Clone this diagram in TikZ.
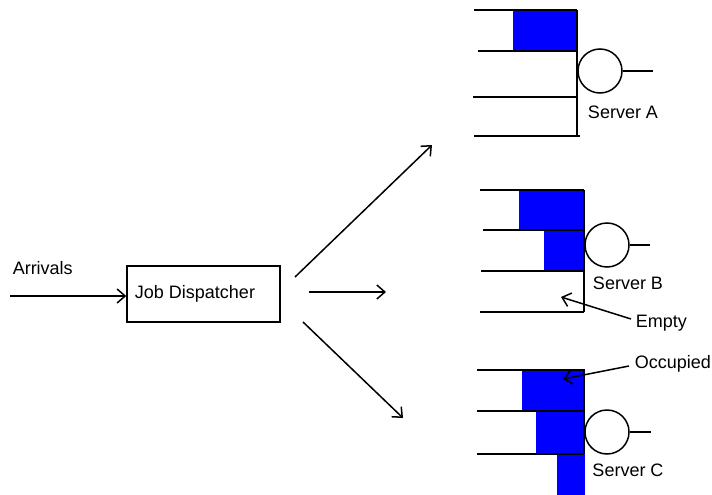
\documentclass[tikz,border=0pt]{standalone}
\usepackage{fontspec}
\setmainfont{Liberation Sans}
\usetikzlibrary{arrows.meta}
\definecolor{qblue}{RGB}{0,0,255}
\begin{document}
\begin{tikzpicture}[x=1pt,y=-1pt,
  line width=1.5pt,
  lbl/.style={font=\fontsize{18}{20}\selectfont, inner sep=0pt},
  arr/.style={-{Straight Barb[length=8pt,width=14pt,line width=1.5pt]}},
  srv/.style={circle, draw, minimum size=44pt, inner sep=0pt},
  disp/.style={draw, minimum width=153pt, minimum height=56pt, inner sep=0pt},
  occ/.style={fill=qblue}]
\useasboundingbox (0,0) rectangle (712,495);

% --- left part
\node[lbl, anchor=west] (arrlbl) at (12,268) {Arrivals};
\node[disp] (disp) at (203.5,294) {};
\node[lbl] (displbl) at (195,294) {Job Dispatcher};
\coordinate (ain) at (10,296);
\draw[arr] (ain) -- (disp.west |- ain);

% dispatcher outputs
\coordinate (o1s) at (295,277); \coordinate (o1e) at (432,145);
\coordinate (o2s) at (309,292); \coordinate (o2e) at (386,292);
\coordinate (o3s) at (303,322); \coordinate (o3e) at (403,418);
\draw[arr] (o1s) -- (o1e);
\draw[arr] (o2s) -- (o2e);
\draw[arr] (o3s) -- (o3e);

% --- Server A
\fill[occ] (513,10) rectangle (577,50);
\draw (474,10) -- (577,10);
\draw (478,51) -- (577,51);
\draw (473,97) -- (577,97);
\draw (474,136) -- (580,136);
\draw (577,10) -- (577,136);
\node[srv] (sa) at (600,71) {};
\coordinate (sao) at (653,71);
\draw (sa.east) -- (sao);
\node[lbl] (salbl) at (623,112) {Server A};

% --- Server B
\fill[occ] (519,190) rectangle (583,229);
\fill[occ] (544,230) rectangle (583,271);
\draw (480,190) -- (584,190);
\draw (483,230) -- (584,230);
\draw (481,271) -- (584,271);
\draw (480,312) -- (584,312);
\draw (584,190) -- (584,312);
\node[srv] (sb) at (607,245) {};
\coordinate (sbo) at (650,245);
\draw (sb.east) -- (sbo);
\node[lbl] (sblbl) at (628,283) {Server B};

\node[lbl, anchor=west] (emptylbl) at (635,323) {Empty};
\coordinate (emptyhd) at (561,297);
\draw[arr] (emptylbl.west) ++(-4,-4) coordinate (emptyst) -- (emptyhd);

% --- Server C
\fill[occ] (522,370) rectangle (585,410);
\fill[occ] (536,411) rectangle (584,454);
\fill[occ] (557,454) rectangle (585,495);
\draw (477,370) -- (585,370);
\draw (477,411) -- (585,411);
\draw (477,454) -- (584,454);
\draw (584,370) -- (584,454);
\node[srv] (sc) at (607,432) {};
\coordinate (sco) at (651,432);
\draw (sc.east) -- (sco);
\node[lbl] (sclbl) at (628,470) {Server C};

\node[lbl, anchor=west] (occlbl) at (634,364) {Occupied};
\coordinate (occhd) at (563,379);
\draw[arr] (occlbl.west) ++(-5,2) coordinate (occst) -- (occhd);
\end{tikzpicture}
\end{document}
